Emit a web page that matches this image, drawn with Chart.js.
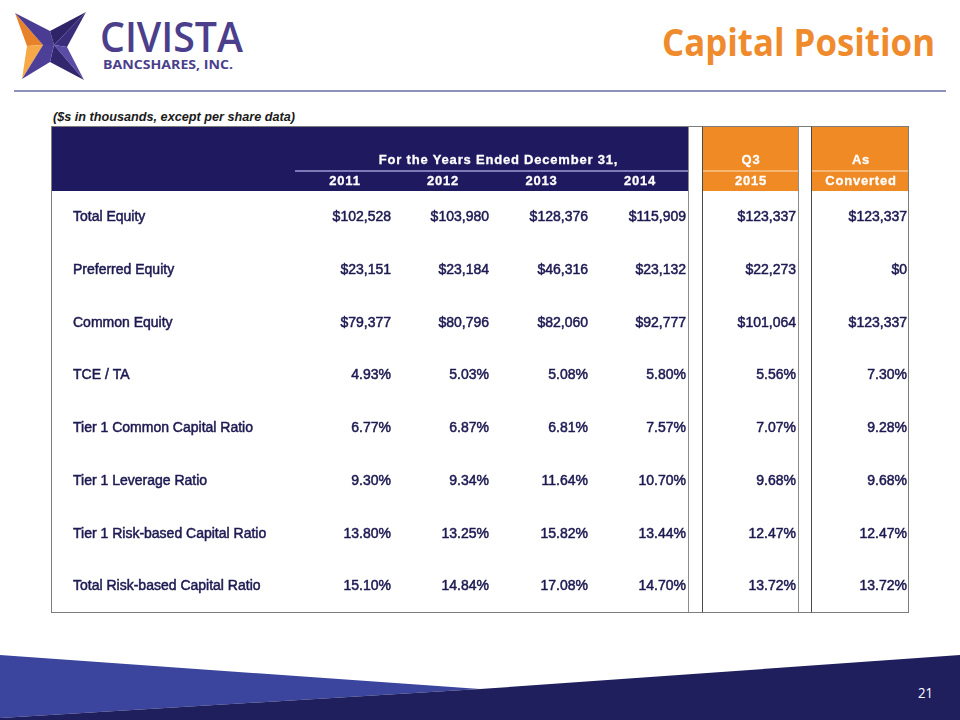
<!DOCTYPE html>
<html>
<head>
<meta charset="utf-8">
<title>Capital Position</title>
<script src="https://cdn.jsdelivr.net/npm/chart.js@4.4.1/dist/chart.umd.min.js"></script>
<style>
  html, body { margin: 0; padding: 0; background: #ffffff; }
  #slide { position: relative; width: 960px; height: 720px; overflow: hidden; background: #ffffff; }
  #deco { position: absolute; left: 0; top: 0; }
  #table-chart { position: absolute; left: 50px; top: 125px; }
</style>
</head>
<body>
<div id="slide">
  <svg id="deco" width="960" height="720" viewBox="0 0 960 720">
    <!-- logo star -->
    <polygon points="15,13 43,45 27,46" fill="#e8822a"/>
    <polygon points="27,46 43,45 22,79" fill="#f7a948"/>
    <polygon points="15,13 50,31 54,45 43,45" fill="#4a3c92"/>
    <polygon points="50,31 86,12 54,45" fill="#2f2468"/>
    <polygon points="86,12 67,47 54,45" fill="#3a2d7c"/>
    <polygon points="54,45 67,47 84,80" fill="#5a4ba6"/>
    <polygon points="54,45 84,80 50,62" fill="#32276f"/>
    <polygon points="43,45 54,45 50,62 22,79" fill="#4d3f98"/>
    <text x="100" y="52" font-family="Open Sans" font-weight="600" font-size="42" fill="#4b3f8c" textLength="143" lengthAdjust="spacingAndGlyphs">CIVISTA</text>
    <text x="103" y="69" font-family="Open Sans" font-weight="700" font-size="13" fill="#4b3f8c" textLength="130" lengthAdjust="spacingAndGlyphs">BANCSHARES, INC.</text>
    <text x="662" y="56" font-family="Open Sans" font-weight="700" font-size="38" fill="#ef8b2c" textLength="273" lengthAdjust="spacingAndGlyphs">Capital Position</text>
    <line x1="14" y1="91" x2="946" y2="91" stroke="#8f90bb" stroke-width="2"/>
    <text x="53" y="121" font-family="Liberation Sans" font-weight="700" font-style="italic" font-size="13" fill="#1a1a1a" textLength="242" lengthAdjust="spacingAndGlyphs">($s in thousands, except per share data)</text>
    <!-- bottom band -->
    <polygon points="0,655 480,689 0,718" fill="#3b459d"/>
    <polygon points="0,718 480,689 960,655 960,720 0,720" fill="#1f1f5e"/>
    <text x="918" y="698" font-family="Open Sans" font-size="15" fill="#ffffff" textLength="15" lengthAdjust="spacingAndGlyphs">21</text>
  </svg>
  <canvas id="table-chart" width="862" height="489"></canvas>
</div>

<script>
// Column headings
const yearHeader = 'For the Years Ended December 31,';
const columnTop = ['', '', '', '', 'Q3', 'As'];
const columnLabels = ['2011', '2012', '2013', '2014', '2015', 'Converted'];

// Row labels
const rowLabels = [
    'Total Equity',
    'Preferred Equity',
    'Common Equity',
    'TCE / TA',
    'Tier 1 Common Capital Ratio',
    'Tier 1 Leverage Ratio',
    'Tier 1 Risk-based Capital Ratio',
    'Total Risk-based Capital Ratio'
];

// Values per row ($ in thousands or %)
const totalEquity = [102528, 103980, 128376, 115909, 123337, 123337];
const preferredEquity = [23151, 23184, 46316, 23132, 22273, 0];
const commonEquity = [79377, 80796, 82060, 92777, 101064, 123337];
const tceTa = [4.93, 5.03, 5.08, 5.80, 5.56, 7.30];
const tier1Common = [6.77, 6.87, 6.81, 7.57, 7.07, 9.28];
const tier1Leverage = [9.30, 9.34, 11.64, 10.70, 9.68, 9.68];
const tier1RiskBased = [13.80, 13.25, 15.82, 13.44, 12.47, 12.47];
const totalRiskBased = [15.10, 14.84, 17.08, 14.70, 13.72, 13.72];

const rowValues = [totalEquity, preferredEquity, commonEquity, tceTa,
    tier1Common, tier1Leverage, tier1RiskBased, totalRiskBased];
const rowFormats = ['dollar', 'dollar', 'dollar', 'pct', 'pct', 'pct', 'pct', 'pct'];

// Table layout: label col, 4 year cols, gap, Q3 col, gap, converted col
const colWidths = [244, 98, 98, 99, 98, 14, 96, 13, 98];
const dataColIndex = [1, 2, 3, 4, 6, 8];
const headerHeight = 65;

const NAVY = '#1f1a5f';
const ORANGE = '#ef8a25';
const TEXT = '#1d1a52';

// cumulative column edges in x-scale units
const colEdges = [0];
colWidths.forEach(w => colEdges.push(colEdges[colEdges.length - 1] + w));
const tableWidth = colEdges[colEdges.length - 1];

function formatValue(v, fmt) {
    if (fmt === 'dollar') {
        return '$' + v.toLocaleString('en-US');
    }
    return v.toFixed(2) + '%';
}

// Draws header, row labels, values and borders at scale positions
const tablePlugin = {
    id: 'capitalTable',
    beforeDatasetsDraw(chart) {
        const ctx = chart.ctx;
        const x = chart.scales.x;
        const y = chart.scales.y;
        const area = chart.chartArea;
        const top = area.top - headerHeight;
        const px = u => x.getPixelForValue(u);

        ctx.save();
        // header backgrounds
        ctx.fillStyle = NAVY;
        ctx.fillRect(px(0), top, px(colEdges[5]) - px(0), headerHeight);
        ctx.fillStyle = ORANGE;
        [6, 8].forEach(c => {
            ctx.fillRect(px(colEdges[c]), top, px(colEdges[c + 1]) - px(colEdges[c]), headerHeight);
        });

        // thin rule between header lines
        const ruleY = top + 45;
        ctx.lineWidth = 1.5;
        ctx.strokeStyle = '#9c9bd6';
        ctx.beginPath();
        ctx.moveTo(px(colEdges[1]), ruleY);
        ctx.lineTo(px(colEdges[5]), ruleY);
        ctx.stroke();
        ctx.strokeStyle = '#f8c48e';
        [6, 8].forEach(c => {
            ctx.beginPath();
            ctx.moveTo(px(colEdges[c]), ruleY);
            ctx.lineTo(px(colEdges[c + 1]), ruleY);
            ctx.stroke();
        });

        // header text
        ctx.fillStyle = '#ffffff';
        ctx.strokeStyle = '#ffffff';
        ctx.lineWidth = 0.3;
        ctx.font = 'bold 13px "Liberation Sans", Arial, sans-serif';
        ctx.textAlign = 'center';
        ctx.textBaseline = 'middle';
        if ('letterSpacing' in ctx) ctx.letterSpacing = '0.8px';
        const hx = (px(colEdges[1]) + px(colEdges[5])) / 2 + 7;
        ctx.fillText(yearHeader, hx, top + 34);
        ctx.strokeText(yearHeader, hx, top + 34);
        dataColIndex.forEach((c, i) => {
            const cx = (px(colEdges[c]) + px(colEdges[c + 1])) / 2 + 1;
            if (columnTop[i]) {
                ctx.fillText(columnTop[i], cx, top + 34);
                ctx.strokeText(columnTop[i], cx, top + 34);
            }
            ctx.fillText(columnLabels[i], cx, top + 55);
            ctx.strokeText(columnLabels[i], cx, top + 55);
        });
        if ('letterSpacing' in ctx) ctx.letterSpacing = '0px';

        // row labels
        ctx.fillStyle = TEXT;
        ctx.strokeStyle = TEXT;
        ctx.lineWidth = 0.5;
        ctx.font = '14px "Liberation Sans", Arial, sans-serif';
        ctx.textAlign = 'left';
        rowLabels.forEach((label, r) => {
            const ty = y.getPixelForValue(r);
            ctx.fillText(label, px(22), ty);
            ctx.strokeText(label, px(22), ty);
        });
        ctx.restore();
    },
    afterDatasetsDraw(chart) {
        const ctx = chart.ctx;
        const x = chart.scales.x;
        const area = chart.chartArea;
        const top = area.top - headerHeight;
        const px = u => x.getPixelForValue(u);

        ctx.save();
        ctx.fillStyle = TEXT;
        ctx.strokeStyle = TEXT;
        ctx.lineWidth = 0.5;
        ctx.font = '14px "Liberation Sans", Arial, sans-serif';
        ctx.textAlign = 'right';
        ctx.textBaseline = 'middle';
        chart.data.datasets.forEach((ds, r) => {
            const meta = chart.getDatasetMeta(r);
            meta.data.forEach((pt, i) => {
                const txt = formatValue(rowValues[r][i], rowFormats[r]);
                ctx.fillText(txt, pt.x, pt.y);
                ctx.strokeText(txt, pt.x, pt.y);
            });
        });

        // borders
        const left = Math.round(px(0)) + 0.5;
        const right = Math.round(px(tableWidth)) - 0.5;
        const t = Math.round(top) + 0.5;
        const b = Math.round(area.bottom) - 0.5;
        ctx.lineWidth = 1;
        ctx.strokeStyle = '#7d7d7d';
        ctx.strokeRect(left, t, right - left, b - t);
        [[colEdges[5], '#8c8c8c'], [colEdges[6], '#4a4a4a'], [colEdges[7], '#8c8c8c'], [colEdges[8], '#4a4a4a']]
            .forEach(([e, col]) => {
                const lx = Math.round(px(e)) + 0.5;
                ctx.strokeStyle = col;
                ctx.beginPath();
                ctx.moveTo(lx, t);
                ctx.lineTo(lx, b);
                ctx.stroke();
            });
        ctx.restore();
    }
};

// one invisible point per cell, anchored at the right edge of its column
const datasets = rowLabels.map((label, r) => ({
    label: label,
    data: rowValues[r].map((v, i) => ({ x: colEdges[dataColIndex[i] + 1] - 2, y: label })),
    pointRadius: 0,
    pointHoverRadius: 0
}));

new Chart(document.getElementById('table-chart'), {
    type: 'scatter',
    data: { datasets },
    options: {
        responsive: false,
        animation: false,
        devicePixelRatio: 1,
        events: [],
        layout: { padding: { top: headerHeight + 1, left: 1, right: 3, bottom: 1 } },
        scales: {
            x: { type: 'linear', min: 0, max: tableWidth, display: false },
            y: { type: 'category', labels: rowLabels, offset: true, display: false }
        },
        plugins: {
            legend: { display: false },
            tooltip: { enabled: false }
        }
    },
    plugins: [tablePlugin]
});
</script>
</body>
</html>
